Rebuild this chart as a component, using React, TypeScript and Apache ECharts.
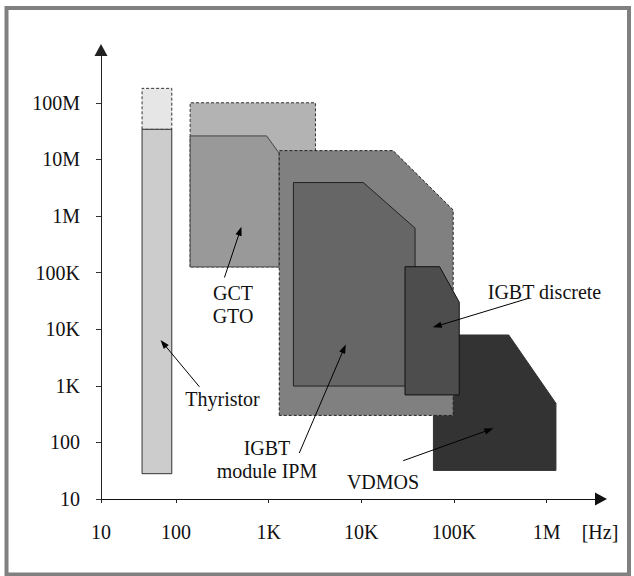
import React, { useEffect, useRef } from "react";
import * as echarts from "echarts";

// Frequency axis (Hz) and value axis tick labels
const X_TICK_LABELS = ["10", "100", "1K", "10K", "100K", "1M"];
const Y_TICK_LABELS = ["10", "100", "1K", "10K", "100K", "1M", "10M", "100M"];
const X_AXIS_START_HZ = 15.5; // the origin of the drawn axis (labelled "10")
const X_AXIS_END_HZ = 3.86e6;
const Y_AXIS_START = 10;
const Y_AXIS_END = 8.57e8;

// Regions: [frequency Hz, power value] vertices
const THYRISTOR_EXT = [[43, 3.4e7], [43, 1.8e8], [90, 1.8e8], [90, 3.4e7]];
const THYRISTOR = [[43, 28], [43, 3.4e7], [90, 3.4e7], [90, 28]];
const GCT_RANGE = [[142, 1.26e5], [142, 1.0e8], [3200, 1.0e8], [3200, 1.26e5]];
const GCT_GTO = [[142, 1.26e5], [142, 2.6e7], [950, 2.6e7], [1300, 1.28e7], [1300, 1.26e5]];
const VDMOS = [[6.0e4, 32], [6.0e4, 7900], [3.9e5, 7900], [1.26e6, 490], [1.26e6, 32]];
const IGBT_RANGE = [[1300, 300], [1300, 1.43e7], [2.2e4, 1.43e7], [9.8e4, 1.28e6], [9.8e4, 300]];
const IGBT_MODULE = [[1850, 990], [1850, 3.9e6], [1.05e4, 3.9e6], [3.8e4, 6.1e5], [3.8e4, 990]];
const IGBT_DISCRETE = [[2.96e4, 690], [2.96e4, 1.27e5], [7.0e4, 1.27e5], [1.14e5, 3.0e4], [1.14e5, 690]];

// Annotation arrows: [from, to] in data units
const ARROWS = [
  [[333, 8.17e4], [508, 6.44e5]],
  [[179, 960], [68, 6440]],
  [[2140, 65], [6790, 5370]],
  [[6.25e5, 3.48e4], [5.9e4, 1.08e4]],
  [[2.83e4, 47.5], [2.66e5, 177]],
];

const FONT = "Liberation Serif";
const lg = (v: number) => Math.log10(v);

function polySeries(pts: number[][], fill: string, stroke: string, dashed: boolean) {
  return {
    type: "custom",
    coordinateSystem: "cartesian2d",
    silent: true,
    clip: false,
    data: [[lg(pts[0][0]), lg(pts[0][1])]],
    renderItem: (_p: any, api: any) => ({
      type: "polygon",
      shape: { points: pts.map((p) => api.coord([lg(p[0]), lg(p[1])])) },
      style: {
        fill,
        stroke,
        lineWidth: 1,
        lineDash: dashed ? [3, 2] : null,
      },
    }),
  };
}

export default function App() {
  const ref = useRef<HTMLDivElement>(null);
  useEffect(() => {
    if (!ref.current) return;
    const chart = echarts.init(ref.current, null, { renderer: "svg" });
    const xMin = lg(X_AXIS_START_HZ);
    const xMax = lg(X_AXIS_END_HZ);
    const yMin = lg(Y_AXIS_START);
    const yMax = lg(Y_AXIS_END);
    const xTickVals = [xMin, 2, 3, 4, 5, 6];
    const yTickVals = [1, 2, 3, 4, 5, 6, 7, 8];

    const label = (text: string, x: number, y: number) => ({
      type: "text",
      x,
      y,
      style: {
        text,
        fontFamily: FONT,
        fontSize: 20,
        fill: "#111",
        align: "center",
        verticalAlign: "middle",
      },
      z: 100,
    });

    chart.setOption({
      animation: false,
      backgroundColor: "#fff",
      grid: { left: 101, right: 33, top: 50, bottom: 77, outerBoundsMode: "none" },
      xAxis: {
        type: "value",
        min: xMin,
        max: xMax,
        splitLine: { show: false },
        axisLine: {
          show: true,
          onZero: false,
          symbol: ["none", "triangle"],
          symbolSize: [13, 12],
          lineStyle: { color: "#111", width: 1 },
        },
        axisTick: { show: true, customValues: xTickVals, length: 4, inside: false, lineStyle: { color: "#222" } },
        axisLabel: {
          customValues: xTickVals,
          margin: 23,
          fontFamily: FONT,
          fontSize: 20,
          color: "#111",
          formatter: (v: number) => (v < 1.5 ? X_TICK_LABELS[0] : X_TICK_LABELS[Math.round(v) - 1]),
        },
      },
      yAxis: {
        type: "value",
        min: yMin,
        max: yMax,
        splitLine: { show: false },
        axisLine: {
          show: true,
          onZero: false,
          symbol: ["none", "triangle"],
          symbolSize: [13, 12],
          lineStyle: { color: "#222", width: 1 },
        },
        axisTick: { show: true, customValues: yTickVals, length: 5, inside: false, lineStyle: { color: "#333" } },
        axisLabel: {
          customValues: yTickVals,
          margin: 21,
          fontFamily: FONT,
          fontSize: 20,
          color: "#111",
          formatter: (v: number) => Y_TICK_LABELS[Math.round(v) - 1],
        },
      },
      series: [
        polySeries(THYRISTOR_EXT, "#e6e6e6", "#333", true),
        polySeries(THYRISTOR, "#cccccc", "#333", false),
        polySeries(GCT_RANGE, "#b3b3b3", "#333", true),
        polySeries(GCT_GTO, "#999999", "#444", false),
        polySeries(VDMOS, "#333333", "#333333", false),
        polySeries(IGBT_RANGE, "#808080", "#222", true),
        polySeries(IGBT_MODULE, "#666666", "#222", false),
        polySeries(IGBT_DISCRETE, "#4d4d4d", "#111", false),
        {
          type: "custom",
          coordinateSystem: "cartesian2d",
          silent: true,
          clip: false,
          z: 5,
          data: ARROWS.map((a) => [lg(a[1][0]), lg(a[1][1]), lg(a[0][0]), lg(a[0][1])]),
          renderItem: (_p: any, api: any) => {
            const tip = api.coord([api.value(0), api.value(1)]);
            const from = api.coord([api.value(2), api.value(3)]);
            const dx = tip[0] - from[0];
            const dy = tip[1] - from[1];
            const len = Math.sqrt(dx * dx + dy * dy);
            const ux = dx / len;
            const uy = dy / len;
            const L = 9;
            const W = 3.2;
            const bx = tip[0] - ux * L;
            const by = tip[1] - uy * L;
            return {
              type: "group",
              children: [
                {
                  type: "line",
                  shape: { x1: from[0], y1: from[1], x2: bx + ux * 2, y2: by + uy * 2 },
                  style: { stroke: "#000", lineWidth: 1 },
                },
                {
                  type: "polygon",
                  shape: {
                    points: [
                      tip,
                      [bx - uy * W, by + ux * W],
                      [bx + uy * W, by - ux * W],
                    ],
                  },
                  style: { fill: "#000" },
                },
              ],
            };
          },
        },
      ],
      graphic: [
        {
          type: "rect",
          shape: { x: 6.5, y: 8, width: 622.5, height: 566.5 },
          style: { fill: "none", stroke: "#808080", lineWidth: 4 },
          z: 100,
        },
        label("GCT", 233, 293),
        label("GTO", 233, 315.5),
        label("Thyristor", 222.5, 399),
        label("IGBT", 267, 448),
        label("module IPM", 267, 470.5),
        label("VDMOS", 383, 481.5),
        label("IGBT discrete", 544.5, 292.3),
        label("[Hz]", 600, 532),
      ],
    });
    return () => chart.dispose();
  }, []);
  return (
    <div
      ref={ref}
      style={{ position: "fixed", left: 0, top: 0, width: 634, height: 576 }}
    />
  );
}
